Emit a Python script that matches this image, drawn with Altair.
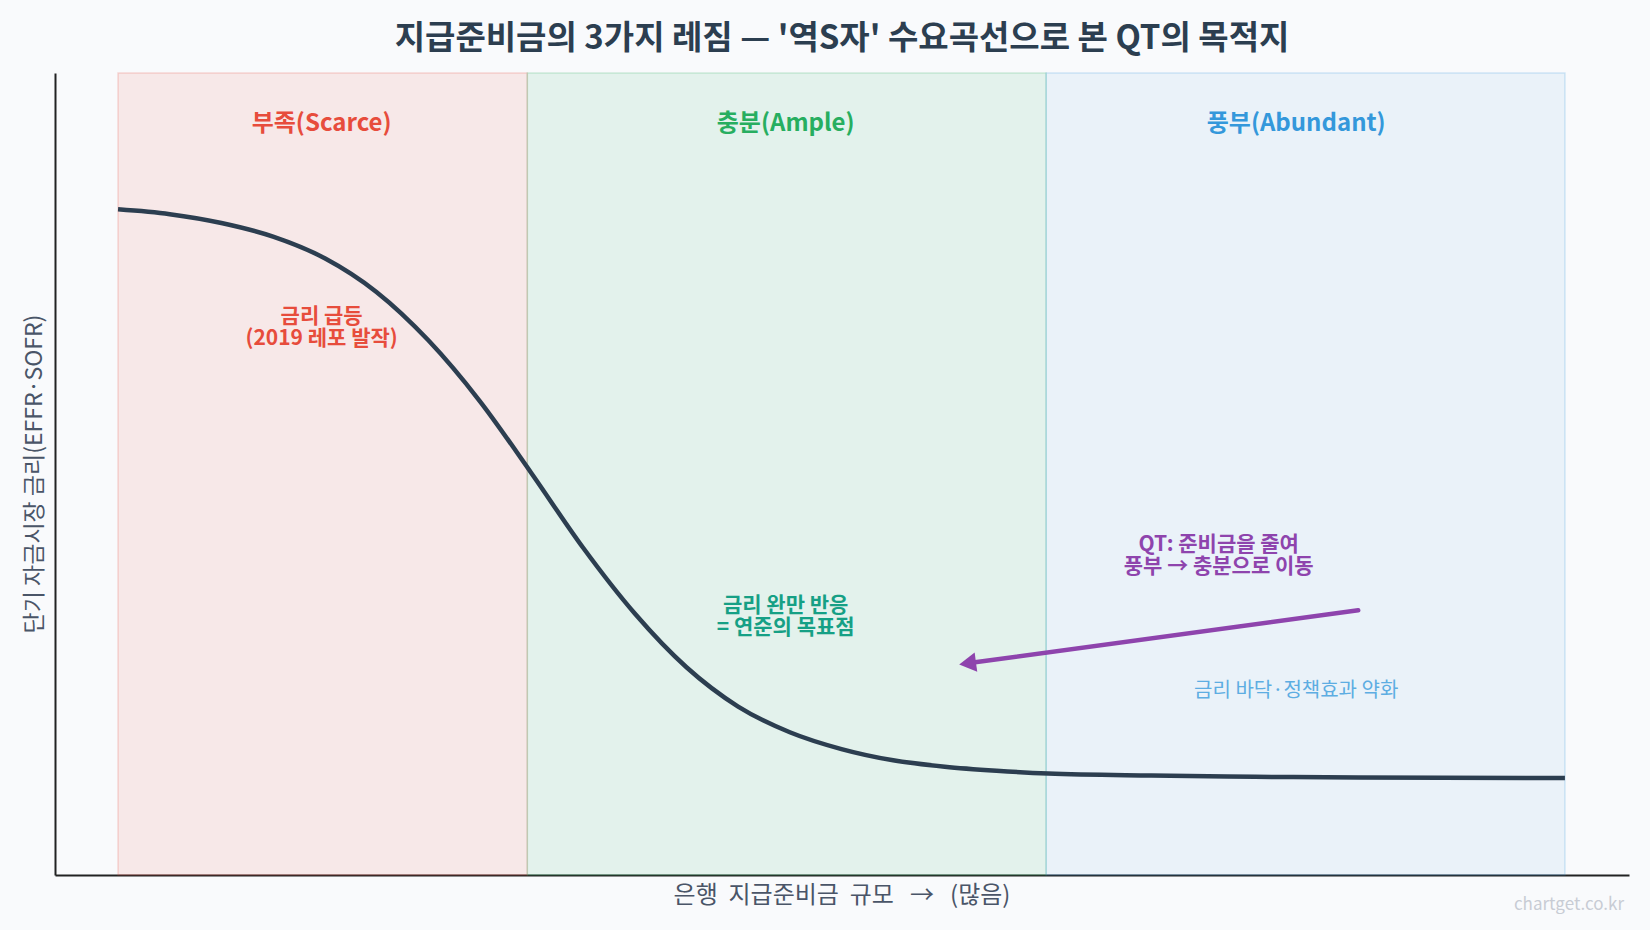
import altair as alt
import pandas as pd

# ---------------- data ----------------
title_text = "지급준비금의 3가지 레짐 — '역S자' 수요곡선으로 본 QT의 목적지"
x_title = "은행\u00a0 지급준비금\u00a0 규모\u00a0\u00a0\u00a0→\u00a0\u00a0\u00a0(많음)"
y_title = "단기 자금시장 금리(EFFR·SOFR)"
watermark = "chartget.co.kr"

regime_names = ["부족(Scarce)", "충분(Ample)", "풍부(Abundant)"]
regime_start = [0, 3.96, 8.98]
regime_end = [3.96, 8.98, 14]
regime_colors = ["#e74c3c", "#27ae60", "#3498db"]
regime_alpha = [0.1, 0.1, 0.075]
regime_label_x = [1.97, 6.46, 11.40]
regime_label_y = [9.37, 9.37, 9.37]

curve_x = [0.0, 0.5, 1.0, 1.5, 2.0, 2.5, 3.0, 3.5, 4.0, 4.5, 5.0, 5.5,
           6.0, 6.5, 7.0, 7.5, 8.0, 8.5, 9.0, 10.0, 11.0, 12.0, 14.0]
curve_y = [8.30, 8.24, 8.13, 7.96, 7.69, 7.27, 6.67, 5.91, 5.01, 4.08, 3.26, 2.59,
           2.10, 1.78, 1.57, 1.43, 1.35, 1.30, 1.265, 1.24, 1.225, 1.215, 1.21]

bold_notes = ["금리 급등\n(2019 레포 발작)", "금리 완만 반응\n= 연준의 목표점",
              "QT: 준비금을 줄여\n풍부 → 충분으로 이동"]
bold_x = [1.97, 6.46, 10.65]
bold_y = [6.96, 3.35, 4.11]
bold_colors = ["#e74c3c", "#16a085", "#8e44ad"]

plain_notes = ["금리 바닥·정책효과 약화"]
plain_x = [11.40]
plain_y = [2.29]
plain_colors = ["#5dade2"]

arrow_x = [12.0]
arrow_y = [3.30]
arrow_x2 = [8.22]
arrow_y2 = [2.64]
arrow_color = "#8e44ad"

# ---------------- chart ----------------
FONT = "Noto Sans CJK KR"
W, H = 1574, 802
xs = alt.Scale(domain=[-0.61, 14.62], nice=False, zero=False)
ys = alt.Scale(domain=[0, 10], nice=False, zero=False)
ax_x = alt.Axis(labels=False, ticks=False, grid=False, title=None,
                domainColor="#222222", domainWidth=2)
ax_y = alt.Axis(labels=False, ticks=False, grid=False, title=None,
                domainColor="#222222", domainWidth=2)

reg = pd.DataFrame({"name": regime_names, "x0": regime_start, "x1": regime_end,
                    "c": regime_colors, "a": regime_alpha,
                    "lx": regime_label_x, "ly": regime_label_y,
                    "y0": [0] * 3, "y1": [10] * 3})

bands = alt.Chart(reg).mark_rect(strokeOpacity=0.2, strokeWidth=1.5).encode(
    x=alt.X("x0:Q", scale=xs, axis=ax_x),
    x2="x1:Q",
    y=alt.Y("y0:Q", scale=ys, axis=ax_y),
    y2="y1:Q",
    fill=alt.Fill("c:N", scale=None),
    fillOpacity=alt.FillOpacity("a:Q", scale=None),
    stroke=alt.Stroke("c:N", scale=None),
)

reg_labels = alt.Chart(reg).mark_text(font=FONT, fontSize=24, fontWeight="bold",
                                      baseline="middle", align="center").encode(
    x=alt.X("lx:Q", scale=xs), y=alt.Y("ly:Q", scale=ys),
    text="name:N", color=alt.Color("c:N", scale=None))

curve_df = pd.DataFrame({"x": curve_x, "y": curve_y})
curve = alt.Chart(curve_df).mark_line(color="#2c3e50", strokeWidth=4.5,
                                      interpolate="monotone").encode(
    x=alt.X("x:Q", scale=xs), y=alt.Y("y:Q", scale=ys))

bold_df = pd.DataFrame({"t": bold_notes, "x": bold_x, "y": bold_y, "c": bold_colors})
bold_txt = alt.Chart(bold_df).mark_text(font=FONT, fontSize=21, fontWeight="bold",
                                        baseline="middle", align="center",
                                        lineBreak="\n", lineHeight=22).encode(
    x=alt.X("x:Q", scale=xs), y=alt.Y("y:Q", scale=ys),
    text="t:N", color=alt.Color("c:N", scale=None))

plain_df = pd.DataFrame({"t": plain_notes, "x": plain_x, "y": plain_y, "c": plain_colors})
plain_txt = alt.Chart(plain_df).mark_text(font=FONT, fontSize=20, fontWeight="normal",
                                          baseline="middle", align="center").encode(
    x=alt.X("x:Q", scale=xs), y=alt.Y("y:Q", scale=ys),
    text="t:N", color=alt.Color("c:N", scale=None))

arr_df = pd.DataFrame({"x": arrow_x, "y": arrow_y, "x2": arrow_x2, "y2": arrow_y2})
shaft = alt.Chart(arr_df).mark_rule(color=arrow_color, strokeWidth=4.5, strokeCap="round").encode(
    x=alt.X("x:Q", scale=xs), y=alt.Y("y:Q", scale=ys), x2="x2:Q", y2="y2:Q")
head = alt.Chart(arr_df).mark_point(shape="triangle-up", filled=True, color=arrow_color,
                                    opacity=1, size=380, angle=262.4).encode(
    x=alt.X("x2:Q", scale=xs), y=alt.Y("y2:Q", scale=ys))

one = pd.DataFrame({"title": [title_text], "xt": [x_title], "yt": [y_title], "wm": [watermark]})
title = alt.Chart(one).mark_text(font=FONT, fontSize=33, fontWeight="bold", color="#2c3e50",
                                 align="center", baseline="middle").encode(
    x=alt.value(W / 2), y=alt.value(-34), text="title:N")
xlab = alt.Chart(one).mark_text(font=FONT, fontSize=24, color="#4a5568",
                                align="center", baseline="middle").encode(
    x=alt.value(W / 2), y=alt.value(823), text="xt:N")
ylab = alt.Chart(one).mark_text(font=FONT, fontSize=23, color="#4a5568", angle=270,
                                align="center", baseline="middle").encode(
    x=alt.value(-20), y=alt.value(H / 2), text="yt:N")
wm = alt.Chart(one).mark_text(font=FONT, fontSize=17, color="#c8ccd4",
                              align="right", baseline="middle").encode(
    x=alt.value(1569), y=alt.value(832), text="wm:N")

chart = alt.layer(bands, curve, reg_labels, bold_txt, plain_txt, shaft, head,
                  title, xlab, ylab, wm).properties(
    width=W, height=H,
    autosize=alt.AutoSizeParams(type="none"),
    padding={"left": 55, "top": 73, "right": 21, "bottom": 55},
    background="#f9fafc",
).configure_view(stroke=None)

chart.save("out.html", embed_options={"renderer": "svg", "actions": False})
